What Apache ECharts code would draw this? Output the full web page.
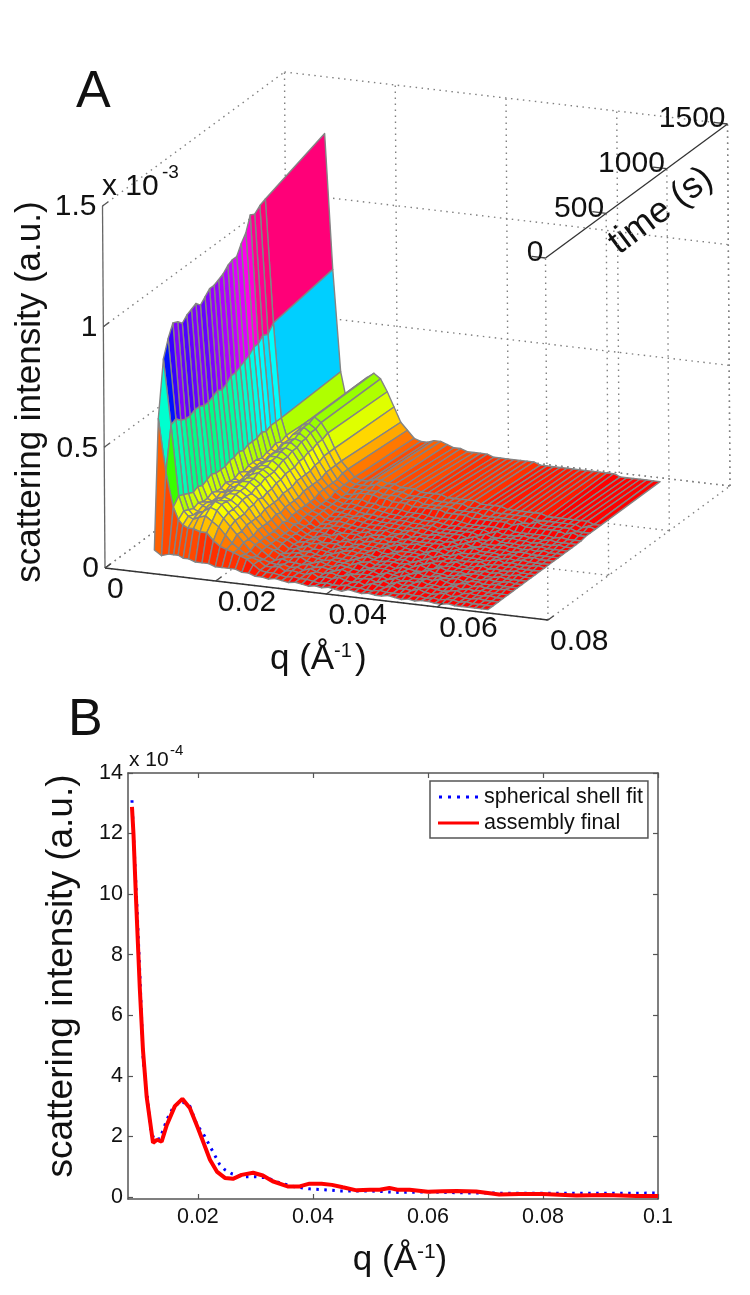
<!DOCTYPE html>
<html><head><meta charset="utf-8">
<style>html,body{margin:0;padding:0;background:#fff}#c{width:750px;height:1295px}</style>
<script src="https://cdn.jsdelivr.net/npm/echarts@6/dist/echarts.min.js"></script>
</head><body><div id="c"></div>
<script>
// ---------- Panel A data: q in 1/Å, time in s, intensity in 1e-5 a.u. ----------
const qValues = [.0085,.0098,.0111,.012,.0128,.0137,.0147,.0159,.0171,.0183,.0195,.0207,.0219,.0231,.0243,.0255,
 .0267,.0279,.0291,.0303,.0315,.0327,.0339,.0351,.0363,.0375,.0387,.0399,.0411,.0423,.0435,.0447,.0459,.0471,.0483,.0495,
 .0507,.0519,.0531,.0543,.0555,.0567,.0579,.0591,.0603,.0615,.0627,.0639,.0651,.0663,.0675,.0687];
const timeValues = [20,60,105,145,185,225,262,300,338,375,412,450,488,525,562,600,638,675,712,750,788,825,862,905,950,1440];
// one list per low q value, one entry per time
const lowQColumns = [
 [9,62,85,92,97,96,94,96,97,98,96,98,100,100,101,102,104,105,105,109,112,118,117,119,120,129],
 [7,40,58,59,57,56,56,57,57,56,56,57,58,57,58,60,60,61,62,63,65,65,67,66,69,73],
 [8,26,29,28,27,26,27,26,27,28,27,27,27,28,28,29,28,29,29,29,30,29,30,30,30,31],
 [8,21,23,22,21,22,21,21,22,21,21,22,21,21,22,21,22,22,22,21,22,22,23,22,23,21],
 [8,19,21,20,20,21,21,20,20,21,20,21,21,20,20,21,21,21,21,20,21,21,20,21,20,18],
 [7,18,20,21,20,20,21,21,20,21,21,20,21,21,22,21,21,22,21,22,21,22,22,21,22,18],
 [7,18,21,22,23,22,23,22,23,23,22,23,24,24,24,25,24,25,25,25,26,25,26,26,26,24],
 [6,17,22,24,25,24,24,24,24,25,25,25,25,26,26,26,27,27,27,28,28,29,29,30,30,30],
 [6,17,20,23,24,24,23,24,24,24,25,25,26,26,26,27,27,28,28,29,29,30,31,31,32,32],
 [6,14,18,20,21,21,21,22,22,22,23,23,24,24,24,25,26,26,27,27,28,28,29,29,30,30],
 [5,12,15,17,18,18,18,19,19,20,19,20,20,21,21,22,22,22,23,23,24,24,25,25,26,25],
 [5,11,12,14,14,15,15,15,15,16,16,16,16,17,17,17,18,18,18,18,19,19,20,20,20,19],
 [5,10,10,11,11,11,12,12,12,12,13,12,13,13,13,13,14,14,14,14,14,15,15,15,15,13],
 [5,9,8,8,9,9,9,9,9,9,10,9,10,10,10,10,10,10,11,11,11,11,11,12,12,10],
 [4,8,7,6,7,7,7,7,7,7,7,8,7,8,8,8,8,8,8,8,9,9,9,9,9,7],
 [4,6,6,5,5,6,5,6,6,6,6,6,6,6,7,7,7,7,7,7,7,7,8,8,8,6]
];
// one list per time, one entry per higher q value
const highQRows = [
 [3,3,2.5,3,2.5,2,2.5,2,1.5,2,1.5,2,1.5,1,2,1.5,1,1.5,1,1,1.5,1,.5,1,.5,1,1,.5,.5,1,.5,.5,.5,.5,.5,.5],
 [4,3.5,3.5,3,2.5,3,2.5,2.5,2,1.5,2,1.5,1.5,2,1.5,1.5,1,1,1.5,1,1,1,1.5,1,1,.5,1,.5,1,1,.5,1,.5,.5,.5,.5],
 [4,4,4.5,3,3.5,3,2.5,3.5,2,2.5,2,3,2,1.5,2,1,2,1.5,1,2,1,1.5,1,2,1,.5,1,1.5,.5,1,.5,.5,1,.5,.5,.5],
 [4,3.5,4,3,3.5,2.5,3.5,2.5,2,3,2,2,3,1.5,2,2,1,2,1,2,1,1.5,1,1,1.5,1,.5,1,1.5,.5,1,.5,.5,1,.5,.5],
 [3.5,4.5,3.5,3.5,3,3.5,2.5,3,2.5,2,3,2,1.5,2,2,1.5,2,1,2,1,1.5,1,2,1,1,.5,1,1.5,.5,1,.5,1,.5,.5,.5,.5],
 [4.5,3.5,4,4.5,3,2.5,3.5,2.5,2,3,2.5,2,1.5,2.5,2,1,2,1.5,1,2,1,1,1.5,1,2,1,.5,1,1.5,.5,1,.5,.5,.5,1,.5],
 [3.5,4,4.5,3.5,3.5,3,2.5,3,2.5,2.5,2,3,2,1.5,2,2,1.5,1,2,1,2,1,1,1.5,1,1,1.5,.5,1,1,.5,.5,1,.5,.5,.5],
 [4,4.5,3.5,4,3,2.5,3.5,2.5,2.5,2,3,2,2.5,1.5,2,2,1,2,1.5,1,1,2,1,1,.5,1,1.5,1,.5,.5,1,.5,.5,1,.5,.5],
 [4.5,3.5,4.5,3.5,3.5,3,2.5,3.5,2.5,2.5,2,3,2,1.5,2,2,1.5,2,1,2,1,1,2,1,1,1,.5,1,1,.5,.5,1,.5,.5,.5,.5],
 [4,4.5,4,4.5,3.5,2.5,3.5,2.5,3,2.5,2.5,2,1.5,2.5,2,1.5,2,1,2,1,2,1,1,1.5,1,1,1,.5,1,.5,1,.5,.5,1,.5,.5],
 [4.5,4,4.5,3.5,3.5,3.5,2.5,3,3,2.5,2,3,2,2,2.5,1.5,2,2,1,2,1,1.5,1,2,1,.5,1,1.5,.5,1,.5,.5,1,.5,.5,.5],
 [4.5,3.5,4.5,4.5,3.5,3,3.5,2.5,3,2.5,2.5,2,3,1.5,2,2,2,1.5,2,1,2,1,1.5,1,1,1,1.5,.5,1,1,.5,1,.5,.5,.5,.5],
 [4.5,4.5,4,3.5,4.5,3,2.5,3.5,2.5,3,2.5,2.5,2,3,2,1.5,2,1,2,2,1,1,2,1,1,1,.5,1,1.5,.5,1,.5,.5,.5,1,.5],
 [4.5,4.5,5,4,3.5,3.5,3.5,2.5,3.5,2.5,3,2,2.5,2,2,2.5,2,2,1,2,1,2,1,1,1.5,1,1,1,.5,1,.5,1,.5,.5,.5,.5],
 [4.5,5,4.5,4.5,4,3.5,3,3.5,2.5,3,2.5,3,2,2.5,2,2,2,2,2,1,2,1,1.5,2,1,1,1,.5,1,1,.5,.5,1,.5,.5,.5],
 [5,4.5,5,4.5,4,3.5,3.5,3,3,3.5,2.5,2.5,3,2,2.5,2,2,2,1.5,2,1,2,1,1,1.5,1,1,1,.5,1,1,.5,.5,.5,.5,.5],
 [5,5,5.5,5,4.5,4,3.5,3.5,3.5,3,3,2.5,3,2.5,2,2,2.5,2,2,1,2,1,2,1,1,1,1.5,1,1,.5,1,.5,1,.5,.5,.5],
 [5.5,5.5,5,4.5,5,4,4,3.5,3.5,3.5,3,3,2.5,3,2.5,2,2,2,2,2,1,2,1,1,2,1,1,1,.5,1,.5,1,.5,.5,.5,.5],
 [6,5.5,6,5,4.5,4.5,4,4,3.5,3.5,3.5,3,3,2.5,3,2,2,2,2,2,2,1,2,1,1,1,1.5,1,1,.5,1,.5,.5,1,.5,.5],
 [6,6.5,6,5.5,5.5,5,4.5,4,4,3.5,4,3.5,3,3,3,2.5,2,2.5,2,2,2,2,1,2,1,1,1,1.5,1,1,.5,1,.5,.5,.5,.5],
 [6.5,7,7,6,6,5,5,5,4.5,4,4,4,3.5,3,3,3,3,2.5,2,2,2,2,2,1.5,2,1,1,1,1,1,1,.5,1,.5,.5,.5],
 [7,8,8,8,7,7,6,6,6,5,5,5,5,5,4,4,4,4,3,3,3,3,3,3,2,3,2,2,2,2,2,2,1,2,1,1],
 [8,8,8,8,7,7,7,6,6,6,5,5,5,5,5,4,4,4,4,3,3,3,3,3,3,2,2,3,2,2,2,2,2,1,1,1],
 [8,8,9,8,8,7,7,6,6,6,6,5,5,5,5,5,4,4,4,4,3,3,3,3,3,3,2,2,2,2,2,2,2,1,2,1],
 [8,9,9,8,8,7,7,7,6,6,6,6,5,5,5,5,5,4,4,4,4,3,3,3,3,3,3,2,2,2,2,2,2,2,1,1],
 [6,7,7,6,5,5,4,4,4,4,3,3,3,3,3,3,3,2,2,2,2,2,2,2,2,2,2,2,2,1,1,1,1,1,1,1]
];
const qTicksA = [0,.02,.04,.06,.08];
const qLabelsA = ['0','0.02','0.04','0.06','0.08'];
const timeTicks = [0,500,1000,1500];
const zTicks = [0,.5,1,1.5];
const zLabels = ['0','0.5','1','1.5'];

// ---------- Panel B data: [q, intensity in 1e-4 a.u.] ----------
const fitCurve = [[.00854,13.1],[.0089,11.6],[.0094,9.6],[.0099,7.4],[.0105,4.5],[.0112,3.3],[.0118,2.2],[.0124,1.9],[.0134,1.92],[.0146,2.55],[.0158,3.0],[.0172,3.15],[.0186,3.0],[.0198,2.4],[.0212,2.0],[.0226,1.5],[.0238,1.07],[.0247,.9],[.0259,.77],[.0278,.67],[.0299,.67],[.0321,.63],[.0342,.47],[.0368,.34],[.0394,.27],[.042,.24],[.0447,.2],[.0475,.2],[.05,.2],[.055,.15],[.06,.17],[.065,.14],[.07,.13],[.08,.12],[.09,.12],[.1,.13]];
const finalCurve = [[.00854,12.88],[.0088,12.0],[.0092,10.04],[.0099,6.9],[.01045,4.86],[.0111,3.3],[.0122,1.79],[.0129,1.89],[.0137,1.83],[.0146,2.38],[.016,3.0],[.0173,3.24],[.0186,2.94],[.02,2.28],[.0209,1.83],[.0221,1.23],[.0233,.84],[.0247,.63],[.0261,.6],[.0276,.73],[.0296,.8],[.0313,.71],[.033,.52],[.0356,.35],[.0377,.35],[.0394,.44],[.0415,.44],[.0433,.4],[.0452,.32],[.0476,.22],[.0499,.24],[.0516,.24],[.0533,.3],[.0547,.24],[.0568,.24],[.06,.17],[.0625,.19],[.065,.2],[.0684,.18],[.0724,.08],[.0759,.1],[.0799,.1],[.0858,.05],[.091,.07],[.0962,.03],[.1,.03]];
const qTicksB = [.02,.04,.06,.08,.1];
const yTicksB = [0,2,4,6,8,10,12,14];

// ---------- assemble surface ----------
const surface = timeValues.map((t,j)=>lowQColumns.map(c=>c[j]).concat(highQRows[j]));
const cells = [];
for (let j=timeValues.length-2;j>=0;j--) for (let i=0;i<qValues.length-1;i++) cells.push([i,j]);

// Oblique projection of the 3-D box on the page plane
const OX=105,OY=568;
function project(q,t,zMilli){
  return [OX+q/.08*443+t/1500*182-zMilli/1.5*2.5, OY+q/.08*52-t/1500*134-zMilli/1.5*362];
}
const Z_UNIT=1e-2; // surface table unit -> 1e-3 axis unit
const zMax=127;
function hsv(z){
  let h=Math.floor(Math.min(zMax,Math.max(0,z))/zMax*63)/64*6;
  const k=Math.floor(h),f=h-k,v=255,q=Math.round(255*(1-f)),u=Math.round(255*f);
  const m=[[v,u,0],[q,v,0],[0,v,u],[0,q,v],[u,0,v],[v,0,q]][k%6];
  return 'rgb('+m.join(',')+')';
}
const FONT='"Liberation Sans",Arial,sans-serif';
const INK='#111';

// dotted box grid
const gridSegs=[];
qTicksA.forEach(q=>{gridSegs.push([q,0,0,q,1500,0]);gridSegs.push([q,1500,0,q,1500,1.5]);});
timeTicks.forEach(t=>{gridSegs.push([0,t,0,.08,t,0]);gridSegs.push([.08,t,0,.08,t,1.5]);});
zTicks.forEach(z=>{gridSegs.push([0,0,z,0,1500,z]);gridSegs.push([0,1500,z,.08,1500,z]);});
// solid axes with their ticks
const axisSegs=[[0,0,0,0,0,1.5,'#666'],[0,0,0,.08,0,0,'#333'],[.08,0,1.5,.08,1500,1.5,'#333']];
zTicks.forEach(z=>axisSegs.push([0,0,z,0,45,z,'#555']));
qTicksA.forEach(q=>axisSegs.push([q,0,0,q,45,0,'#444']));
timeTicks.forEach(t=>axisSegs.push([.08,t,1.5,.0775,t,1.5,'#444']));
// tick labels: [q,t,z,text,dx,dy,align]
const tickTexts=[];
qTicksA.forEach((q,i)=>tickTexts.push([q,0,0,qLabelsA[i],2,22,'left']));
zTicks.forEach((z,i)=>tickTexts.push([0,0,z,zLabels[i],-6,1,'right']));
timeTicks.forEach(t=>tickTexts.push([.08,t,1.5,String(t),-2,-5,'right']));

const lineSeries=(name,segs,w,dash)=>({type:'custom',name,xAxisIndex:0,yAxisIndex:0,silent:true,clip:false,animation:false,z:2,
  data:segs.map((s,i)=>[i]),
  renderItem(p,api){
    const s=segs[api.value(0)],a=api.coord(project(s[0],s[1],s[2])),b=api.coord(project(s[3],s[4],s[5]));
    return {type:'line',shape:{x1:a[0],y1:a[1],x2:b[0],y2:b[1]},style:{stroke:s[6]||'#808080',lineWidth:w,lineDash:dash||null}};
  }});

const option={
 animation:false,backgroundColor:'#fff',
 textStyle:{fontFamily:FONT},
 grid:[{left:0,top:0,width:750,height:690,show:false},
       {left:128,top:773,width:530,height:426,show:true,borderWidth:0,containLabel:false}],
 xAxis:[
  {gridIndex:0,type:'value',min:0,max:750,show:false},
  {gridIndex:1,type:'value',min:.00785,max:.1,position:'bottom',splitLine:{show:false},
   axisLine:{lineStyle:{color:'#555',width:1.5},onZero:false},
   axisTick:{inside:true,length:5,customValues:qTicksB,lineStyle:{color:'#555',width:1.2}},
   axisLabel:{customValues:qTicksB,formatter:v=>String(v),color:INK,fontSize:21.5,fontFamily:FONT,margin:7},
   name:'{a|q (Å}{s|-1}{a|)}',nameLocation:'middle',nameGap:43,
   nameTextStyle:{padding:[0,0,0,14],rich:{a:{fontSize:35,fontFamily:FONT,color:INK},s:{fontSize:21,fontFamily:FONT,color:INK,verticalAlign:'top',lineHeight:36}}}},
  {gridIndex:1,type:'value',min:.00785,max:.1,position:'top',splitLine:{show:false},
   axisLine:{lineStyle:{color:'#555',width:1.5},onZero:false},
   axisTick:{inside:true,length:5,customValues:qTicksB,lineStyle:{color:'#555',width:1.2}},
   axisLabel:{show:false}}
 ],
 yAxis:[
  {gridIndex:0,type:'value',min:0,max:690,inverse:true,show:false},
  {gridIndex:1,type:'value',min:-.066,max:14,position:'left',splitLine:{show:false},
   axisLine:{lineStyle:{color:'#555',width:1.5},onZero:false},
   axisTick:{inside:true,length:5,customValues:yTicksB,lineStyle:{color:'#555',width:1.2}},
   axisLabel:{customValues:yTicksB,formatter:v=>String(v),color:INK,fontSize:21.5,fontFamily:FONT,margin:5},
   name:'scattering intensity (a.u.)',nameLocation:'middle',nameRotate:90,nameGap:48,
   nameTextStyle:{fontSize:37,fontFamily:FONT,color:INK,padding:[0,0,0,20]}},
  {gridIndex:1,type:'value',min:-.066,max:14,position:'right',splitLine:{show:false},
   axisLine:{lineStyle:{color:'#555',width:1.5},onZero:false},
   axisTick:{inside:true,length:5,customValues:yTicksB,lineStyle:{color:'#555',width:1.2}},
   axisLabel:{show:false}}
 ],
 legend:{data:[{name:'spherical shell fit',icon:'path://M0,0h3v3H0z M9,0h3v3H9z M18,0h3v3H18z M27,0h3v3H27z M36,0h3v3H36z'},
               {name:'assembly final',icon:'path://M0,0H41V3H0z'}],
  orient:'vertical',left:430,top:781,
  backgroundColor:'#fff',borderColor:'#555',borderWidth:1.5,padding:[5,5,4,8],itemGap:4,itemWidth:41,itemHeight:3,
  textStyle:{fontSize:21.5,fontFamily:FONT,color:INK},selectedMode:false,z:20},
 graphic:[
  {type:'text',left:76,top:67,style:{text:'A',font:'52px '+FONT,fill:INK}},
  {type:'text',left:68,top:695,style:{text:'B',font:'52px '+FONT,fill:INK}},
  {type:'text',x:102,y:172,style:{text:'x 10',font:'30px '+FONT,fill:INK}},
  {type:'text',x:162,y:163,style:{text:'-3',font:'19px '+FONT,fill:INK}},
  {type:'text',x:129,y:750,style:{text:'x 10',font:'21px '+FONT,fill:INK}},
  {type:'text',x:170,y:743,style:{text:'-4',font:'15px '+FONT,fill:INK}},
  {type:'text',x:30,y:392,rotation:Math.PI/2,style:{text:'scattering intensity (a.u.)',font:'35px '+FONT,fill:INK,align:'center',verticalAlign:'middle'}},
  {type:'text',x:270,y:642,style:{text:'q (Å',font:'35px '+FONT,fill:INK}},
  {type:'text',x:334,y:641,style:{text:'-1',font:'20px '+FONT,fill:INK}},
  {type:'text',x:355,y:642,style:{text:')',font:'35px '+FONT,fill:INK}},
  {type:'text',x:661,y:211,rotation:37*Math.PI/180,style:{text:'time (s)',font:'36px '+FONT,fill:INK,align:'center',verticalAlign:'middle'}}
 ],
 series:[
  lineSeries('box grid',gridSegs,1.4,[1.5,4.5]),
  {type:'custom',name:'surface',xAxisIndex:0,yAxisIndex:0,silent:true,clip:false,animation:false,progressive:0,z:3,
   data:cells,
   renderItem(p,api){
    const i=api.value(0),j=api.value(1);
    const pts=[[i,j],[i+1,j],[i+1,j+1],[i,j+1]].map(([a,b])=>api.coord(project(qValues[a],timeValues[b],surface[b][a]*Z_UNIT)));
    return {type:'polygon',shape:{points:pts},style:{fill:hsv(surface[j][i]),stroke:'#848484',lineWidth:1.4,lineJoin:'round'}};
   }},
  Object.assign(lineSeries('box axes',axisSegs,1.3),{z:4}),
  {type:'custom',name:'tick labels',xAxisIndex:0,yAxisIndex:0,silent:true,clip:false,z:5,
   data:tickTexts.map((s,i)=>[i]),
   renderItem(p,api){
    const s=tickTexts[api.value(0)],a=api.coord(project(s[0],s[1],s[2]));
    return {type:'text',style:{text:s[3],x:a[0]+s[4],y:a[1]+s[5],fill:INK,fontSize:30,fontFamily:FONT,align:s[6],verticalAlign:'middle'}};
   }},
  {type:'line',name:'spherical shell fit',xAxisIndex:1,yAxisIndex:1,data:fitCurve,symbol:'none',z:6,
   lineStyle:{color:'#0000ff',width:3,type:[2.5,5.5]},itemStyle:{color:'#0000ff'}},
  {type:'line',name:'assembly final',xAxisIndex:1,yAxisIndex:1,data:finalCurve,symbol:'none',z:7,
   lineStyle:{color:'#ff0000',width:4},itemStyle:{color:'#ff0000'}}
 ]
};
echarts.init(document.getElementById('c'),null,{renderer:'canvas'}).setOption(option);
</script></body></html>
